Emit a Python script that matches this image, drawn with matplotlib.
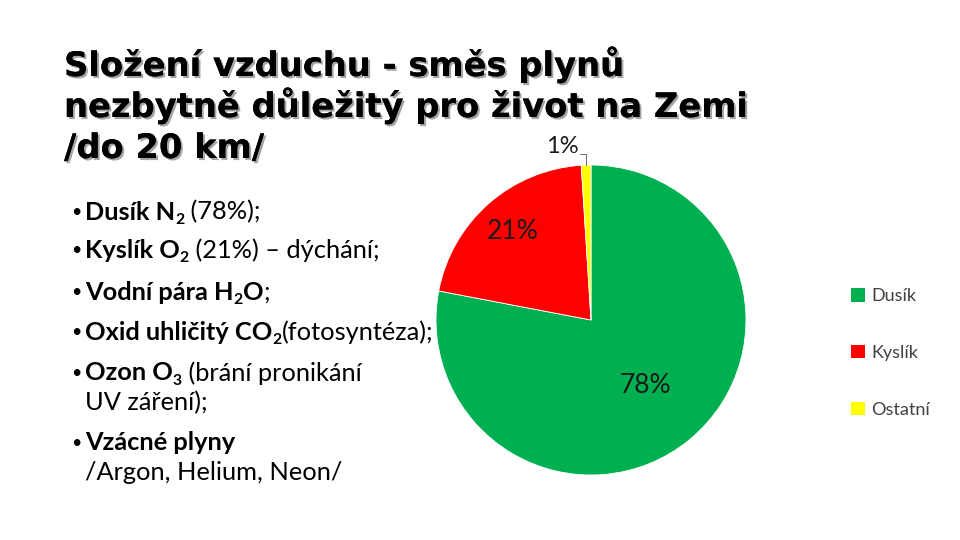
import matplotlib
matplotlib.use("Agg")
import matplotlib.pyplot as plt
import numpy as np
import matplotlib.patheffects as pe

# data
plyny = ["Dusík", "Kyslík", "Ostatní"]
podil = [78, 21, 1]
barvy = ["#00B050", "#FF0000", "#FFFF00"]

titulek = ["Složení vzduchu - směs plynů",
           "nezbytně důležitý pro život na Zemi",
           "/do 20 km/"]

# bullet lines: (bullet?, [(text, bold, subscript)])
odrazky = [
    (True, [("Dusík N", True, False), ("2", True, True), (" (78%);", False, False)]),
    (True, [("Kyslík O", True, False), ("2", True, True), (" (21%) – dýchání;", False, False)]),
    (True, [("Vodní pára H", True, False), ("2", True, True), ("O", True, False), (";", False, False)]),
    (True, [("Oxid uhličitý CO", True, False), ("2", True, True), ("(fotosyntéza);", False, False)]),
    (True, [("Ozon O", True, False), ("3", True, True), (" (brání pronikání", False, False)]),
    (False, [("UV záření);", False, False)]),
    (True, [("Vzácné plyny", True, False)]),
    (False, [("/Argon, Helium, Neon/", False, False)]),
]
radky_y = [212, 250, 292, 332, 373, 403, 443, 473]

W, H = 960, 540
fig = plt.figure(figsize=(9.6, 5.4), dpi=100)
fig.patch.set_facecolor("white")
r = fig.canvas.get_renderer()

def fx(x):
    return x / W

def fy(y):
    return 1 - y / H

# title with shadow
for i, t in enumerate(titulek):
    fig.text(fx(64), fy(76 + i * 41), t, fontsize=24.3, fontweight="bold",
             family="DejaVu Sans", color="black", va="baseline",
             path_effects=[pe.withSimplePatchShadow(offset=(1.5, -1.5), shadow_rgbFace="#9a9a9a", alpha=0.9),
                           pe.Normal()])

# bullets
fs = 18.3
for (bullet, runs), y in zip(odrazky, radky_y):
    if bullet:
        fig.text(fx(76), fy(y), "•", fontsize=fs * 0.7, family="Lato", va="center", ha="center")
    x = 85
    for txt, bold, sub in runs:
        size = fs * 0.62 if sub else fs
        yy = y + 8 if sub else y
        t = fig.text(fx(x), fy(yy), txt, fontsize=size, family="Lato",
                     fontweight="bold" if bold else "normal", va="center", color="black")
        x += t.get_window_extent(r).width

# pie
cx, cy, rad = 591, 320, 155
ax = fig.add_axes([fx(cx - rad), fy(cy + rad), 2 * rad / W, 2 * rad / H])
wedges, _ = ax.pie(podil, colors=barvy, startangle=90, counterclock=False,
                   wedgeprops=dict(edgecolor="white", linewidth=0.6))
ax.set_xlim(-1, 1)
ax.set_ylim(-1, 1)
ax.set_aspect("equal")
ax.axis("off")

vzdal = [0.55, 0.76, 1.13]
velik = [19, 19, 17]
for w, v, d, s in zip(wedges, podil, vzdal, velik):
    mid = np.deg2rad((w.theta1 + w.theta2) / 2)
    if d > 1:
        # outside label with leader
        ex, ey = np.cos(mid), np.sin(mid)
        ax.plot([ex, ex, ex - 0.04], [ey, ey + 0.07, ey + 0.07], color="#555555", lw=0.6, clip_on=False)
        ax.text(ex - 0.05, ey + 0.12, f"{v}%", fontsize=s, family="Lato", color="#1a1a1a",
                ha="right", va="center")
    else:
        ax.text(d * np.cos(mid), d * np.sin(mid), f"{v}%", fontsize=s, family="Lato",
                color="#1a1a1a", ha="center", va="center")

# legend
leg = fig.legend(wedges, plyny, loc="center left", bbox_to_anchor=(fx(835), fy(353)),
                 frameon=False, prop=dict(family="Lato", size=13), labelcolor="#404040",
                 handlelength=0.75, handleheight=0.75, handletextpad=0.35, labelspacing=2.25)
for h in leg.legend_handles:
    h.set_edgecolor("none")

fig.savefig("out.png", dpi=100)
